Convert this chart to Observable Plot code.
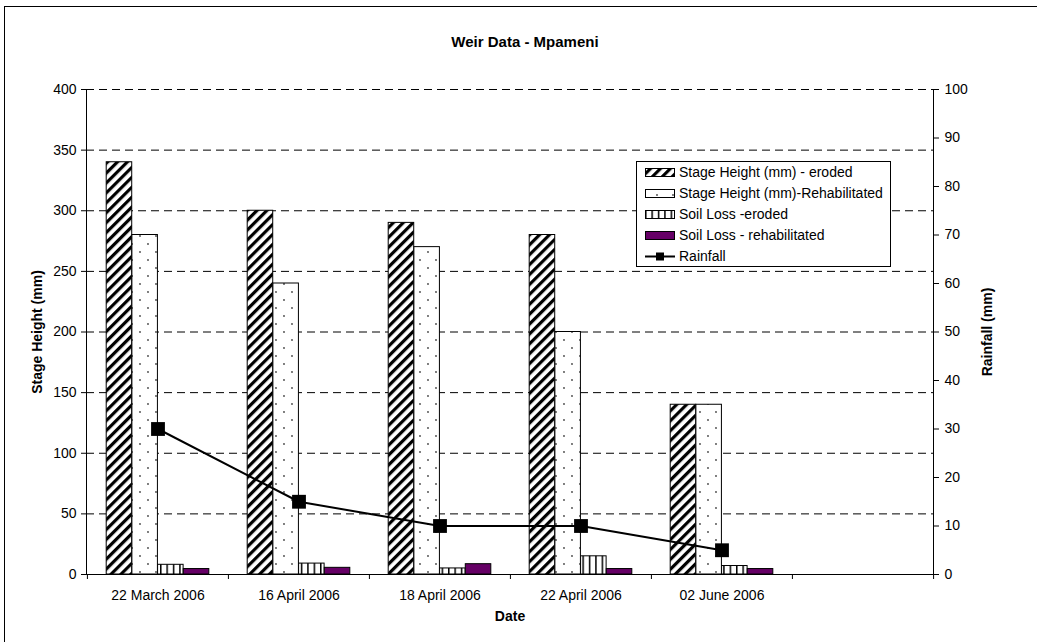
<!DOCTYPE html>
<html>
<head>
<meta charset="utf-8">
<script src="https://cdn.jsdelivr.net/npm/d3@7"></script>
<script src="https://cdn.jsdelivr.net/npm/@observablehq/plot@0.6"></script>
<style>
  body { margin: 0; background: #fff; font-family: "Liberation Sans", Arial, sans-serif; }
  #wrap { position: relative; width: 1037px; height: 642px; overflow: hidden; background: #fff; }
  #border { position: absolute; left: 4px; top: 6px; width: 1200px; height: 800px; border-left: 1px solid #000; border-top: 1px solid #000; }
  #title { position: absolute; left: 0; top: 33px; width: 1050px; text-align: center; font-weight: bold; font-size: 15px; line-height: 18px; color: #000; }
  .layer { position: absolute; left: 0; top: 0; }
  #legend { position: absolute; left: 636px; top: 161px; width: 255px; height: 106px; box-sizing: border-box; border: 1px solid #000; background: #fff; padding-left: 8px; }
  .row { height: 21px; line-height: 21px; font-size: 14px; color: #000; white-space: nowrap; display: flex; align-items: center; }
  .row svg { flex: none; margin-right: 4px; }
</style>
</head>
<body>
<div id="wrap">
  <div id="border"></div>
  <svg width="0" height="0" style="position:absolute">
    <defs>
      <pattern id="hatch" patternUnits="userSpaceOnUse" width="7" height="7" patternTransform="rotate(45)">
        <rect width="7" height="7" fill="#fff"/>
        <rect width="3.2" height="7" fill="#000"/>
      </pattern>
      <pattern id="dots" patternUnits="userSpaceOnUse" width="16" height="16">
        <rect width="16" height="16" fill="#fff"/>
        <circle cx="4" cy="4" r="0.9" fill="#444"/>
        <circle cx="12" cy="12" r="0.9" fill="#444"/>
      </pattern>
      <pattern id="vlines" patternUnits="userSpaceOnUse" width="6.4" height="10">
        <rect width="6.4" height="10" fill="#fff"/>
        <rect x="0" width="1.5" height="10" fill="#000"/>
      </pattern>
    </defs>
  </svg>
  <div id="title">Weir Data - Mpameni</div>
  <div id="chart"></div>
  <div id="legend"></div>
</div>
<script>
// ---- data ----
const dates = ["22 March 2006", "16 April 2006", "18 April 2006", "22 April 2006", "02 June 2006"];
const stageEroded = [340, 300, 290, 280, 140];
const stageRehab = [280, 240, 270, 200, 140];
const soilEroded = [8, 9, 5, 15, 7];
const soilRehab = [4.5, 5.5, 8.5, 4.5, 4.5];
const rainfall = [30, 15, 10, 10, 5];
const seriesNames = ["Stage Height (mm) - eroded", "Stage Height (mm)-Rehabilitated", "Soil Loss -eroded", "Soil Loss - rehabilitated", "Rainfall"];
const leftTicks = [0, 50, 100, 150, 200, 250, 300, 350, 400];
const rightTicks = [0, 10, 20, 30, 40, 50, 60, 70, 80, 90, 100];
const emptySlot = "";

// ---- layout ----
const W = 1037, H = 642, mL = 86, mR = 104, mT = 89, mB = 68;
const xDomain = [...dates, emptySlot];
const bw = (W - mL - mR) / xDomain.length;
const barW = bw * 0.182;
const pad = (bw - 4 * barW) / 2;

const table = dates.map((d, i) => ({
  date: d,
  stageEroded: stageEroded[i],
  stageRehab: stageRehab[i],
  soilEroded: soilEroded[i],
  soilRehab: soilRehab[i],
  rain: rainfall[i]
}));
const seriesKeys = ["stageEroded", "stageRehab", "soilEroded", "soilRehab"];
const fills = ["url(#hatch)", "url(#dots)", "url(#vlines)", "#660066"];

const font = "Liberation Sans, Arial, sans-serif";
const bars = seriesKeys.map((k, j) => Plot.barY(table, {
  x: "date", y: k, fill: fills[j], stroke: "#000", strokeWidth: 1,
  insetLeft: pad + j * barW, insetRight: bw - pad - (j + 1) * barW
}));

const p1 = Plot.plot({
  width: W, height: H, marginLeft: mL, marginRight: mR, marginTop: mT, marginBottom: mB,
  style: {background: "transparent", fontFamily: font, color: "#000"},
  x: {type: "band", domain: xDomain, padding: 0, label: null},
  y: {domain: [0, 400], label: null},
  marks: [
    Plot.ruleY(leftTicks.filter(v => v > 0), {stroke: "#000", strokeDasharray: "8,5"}),
    ...bars,
    Plot.ruleY([0], {stroke: "#000"}),
    Plot.frame({anchor: "left", stroke: "#000"}),
    Plot.ruleX(xDomain, {x: d => d, y1: 0, insetBottom: -5, dx: -bw / 2, stroke: "#000"}),
    Plot.ruleX([emptySlot], {x: d => d, y1: 0, insetBottom: -5, dx: bw / 2, stroke: "#000"}),
    Plot.axisY({ticks: leftTicks, tickSize: 5, tickPadding: 5, fontSize: 14, label: null}),
    Plot.axisX({tickSize: 0, tickPadding: 16, fontSize: 14, label: null}),
    Plot.text(["Stage Height (mm)"], {frameAnchor: "left", textAnchor: "middle", dx: -49, rotate: -90, fontWeight: "bold", fontSize: 14}),
    Plot.text(["Date"], {frameAnchor: "bottom", textAnchor: "middle", dy: 46, fontWeight: "bold", fontSize: 14})
  ]
});

const p2 = Plot.plot({
  width: W, height: H, marginLeft: mL, marginRight: mR, marginTop: mT, marginBottom: mB,
  style: {background: "transparent", fontFamily: font, color: "#000"},
  x: {type: "band", domain: xDomain, padding: 0, axis: null},
  y: {domain: [0, 100], label: null},
  marks: [
    Plot.frame({anchor: "right", stroke: "#000"}),
    Plot.axisY({anchor: "right", ticks: rightTicks, tickSize: 5, tickPadding: 6, fontSize: 14, label: null}),
    Plot.line(table, {x: "date", y: "rain", stroke: "#000", strokeWidth: 2}),
    Plot.dot(table, {x: "date", y: "rain", symbol: "square", r: 7.8, fill: "#000"}),
    Plot.text(["Rainfall (mm)"], {frameAnchor: "right", textAnchor: "middle", dx: 54, rotate: -90, fontWeight: "bold", fontSize: 14})
  ]
});

p1.classList.add("layer");
p2.classList.add("layer");
const chart = document.getElementById("chart");
chart.appendChild(p1);
chart.appendChild(p2);

// ---- legend ----
const legend = document.getElementById("legend");
const swatch = (j) => {
  if (j < 4) {
    return `<svg width="30" height="21"><rect x="0.5" y="6.5" width="29" height="8" fill="${fills[j]}" stroke="#000"/></svg>`;
  }
  return `<svg width="30" height="21"><line x1="0" x2="30" y1="10.5" y2="10.5" stroke="#000" stroke-width="2"/><rect x="11" y="6.5" width="8" height="8" fill="#000"/></svg>`;
};
legend.innerHTML = seriesNames.map((n, j) => `<div class="row">${swatch(j)}<span>${n}</span></div>`).join("");
</script>
</body>
</html>
